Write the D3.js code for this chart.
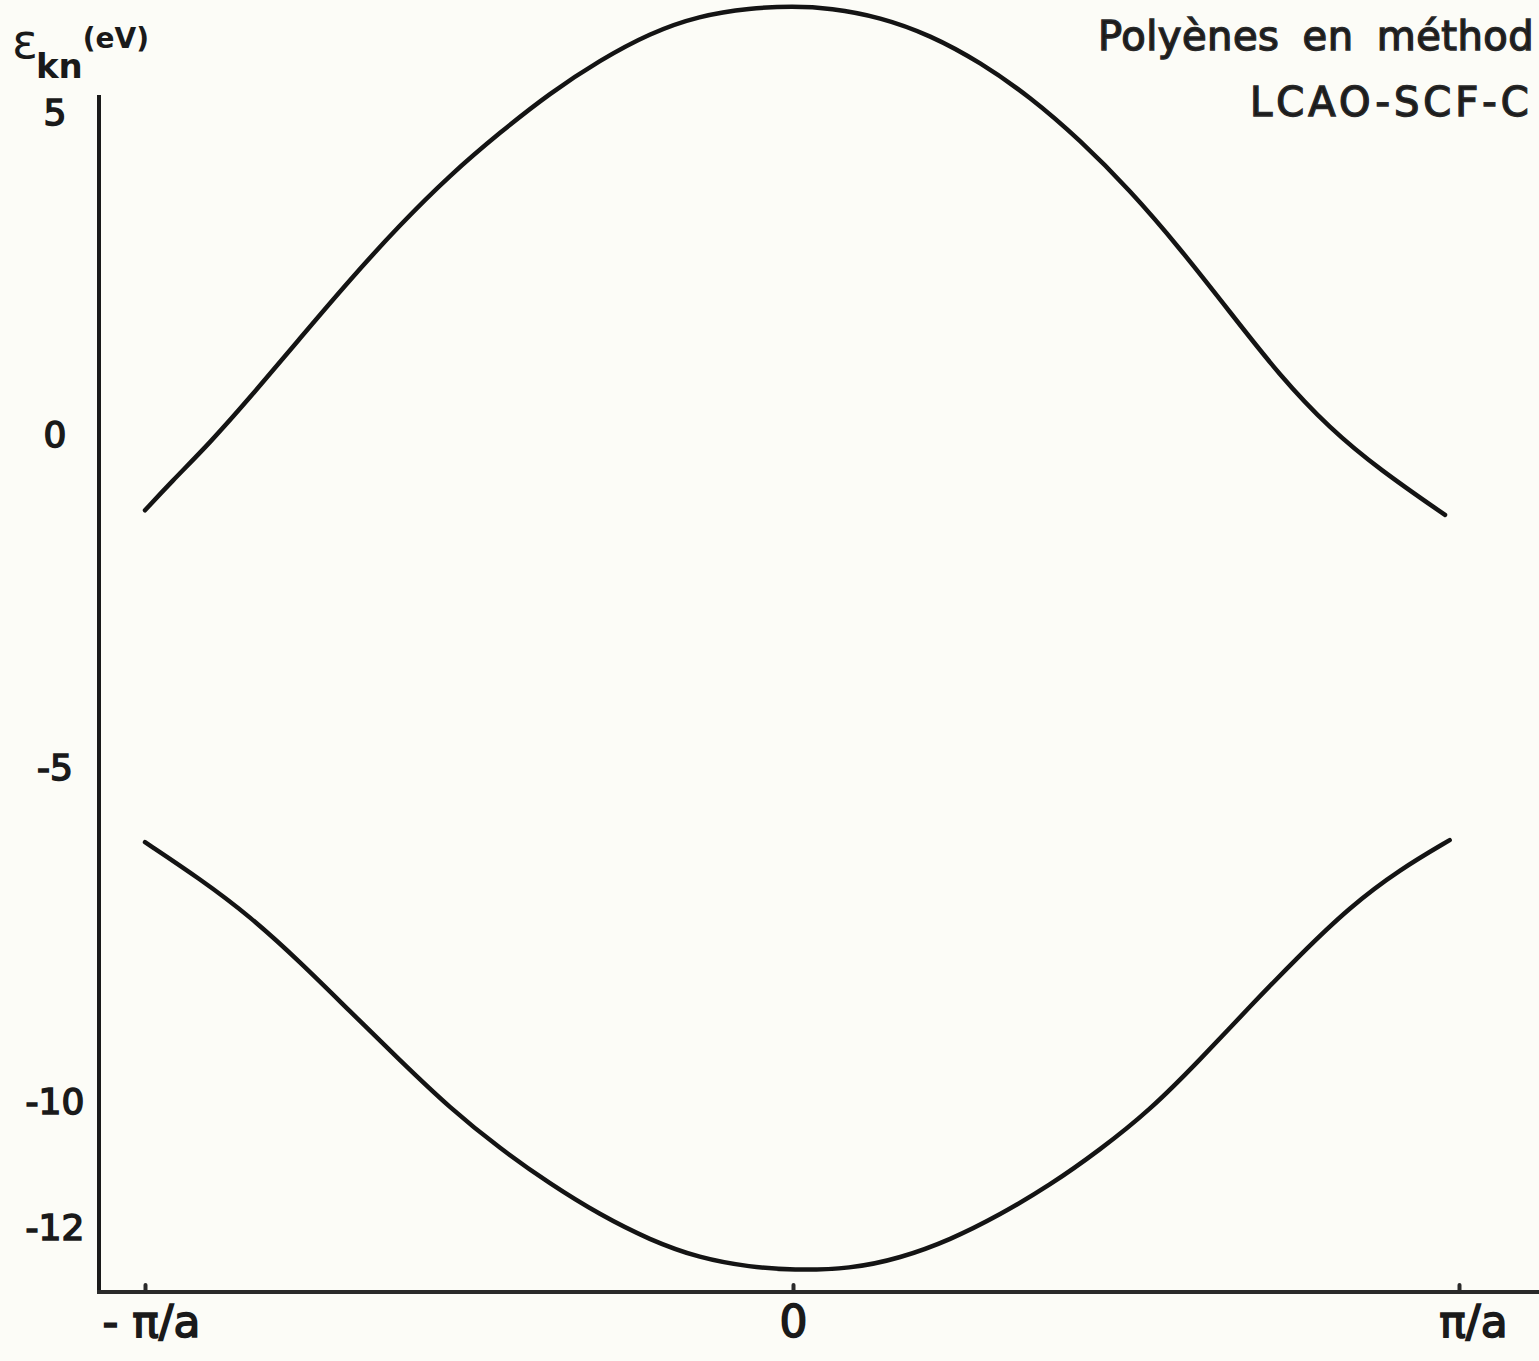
<!DOCTYPE html>
<html>
<head>
<meta charset="utf-8">
<script src="https://cdn.jsdelivr.net/npm/d3@7"></script>
<style>
body{margin:0;background:#fcfcf7;}
svg text{font-family:"DejaVu Sans",sans-serif;fill:#1a1a1a;}
</style>
</head>
<body>
<div class="box"></div>
<script>
// wave vector in units of pi/a, energy in eV
const kUpper=[-1,-0.961,-0.90,-0.838,-0.761,-0.684,-0.607,-0.529,-0.452,-0.375,-0.298,-0.221,-0.145,-0.066,0,0.056,0.131,0.206,0.281,0.356,0.431,0.506,0.581,0.656,0.731,0.806,0.881,0.979];
const eUpper=[-1.13,-0.72,-0.12,0.58,1.50,2.41,3.26,4.04,4.70,5.31,5.82,6.24,6.51,6.63,6.66,6.63,6.49,6.21,5.79,5.25,4.58,3.80,2.90,1.91,0.92,0.10,-0.52,-1.20];
const kLower=[-1,-0.915,-0.838,-0.761,-0.684,-0.606,-0.529,-0.452,-0.375,-0.298,-0.221,-0.144,-0.066,0,0.086,0.161,0.236,0.311,0.386,0.461,0.536,0.611,0.686,0.761,0.836,0.911,0.986];
const eLower=[-6.11,-6.66,-7.22,-7.90,-8.64,-9.38,-10.10,-10.74,-11.30,-11.79,-12.19,-12.48,-12.62,-12.67,-12.65,-12.48,-12.19,-11.79,-11.32,-10.76,-10.13,-9.37,-8.57,-7.80,-7.08,-6.52,-6.08];
const yTicks=[5,0,-5,-10,-12];
const xTicks=[-1,0,1];
const xTickLabels=['- π/a','0','π/a'];

const W=1539,H=1361;
const svg=d3.select('.box').append('svg').attr('width',W).attr('height',H).style('background','#fcfcf7');

// hand drawn axes are not quite linear, so piecewise scales
const x=d3.scaleLinear().domain([-1,0,1]).range([145,793,1459]);
const y=d3.scaleLinear().domain([-12,-10,-5,0,5]).range([1228,1102,768,435,113]);

const axisX0=99,axisY0=1292;

// axis lines
svg.append('line').attr('x1',axisX0).attr('x2',axisX0).attr('y1',95).attr('y2',axisY0)
  .attr('stroke','#1a1a1a').attr('stroke-width',4);
svg.append('line').attr('x1',axisX0-2).attr('x2',W).attr('y1',axisY0).attr('y2',axisY0)
  .attr('stroke','#2a2a2a').attr('stroke-width',4);

const gY=svg.append('g').attr('transform',`translate(${axisX0},0)`);
gY.call(d3.axisLeft(y).tickValues(yTicks).tickSize(0).tickPadding(44).tickFormat(d=>d<0?'-'+Math.abs(d):d));
gY.select('.domain').remove();
gY.selectAll('text').attr('font-size',36).attr('text-anchor','middle')
  .attr('stroke','#1a1a1a').attr('stroke-width',1.6).style('font-family','"DejaVu Sans",sans-serif');

const gX=svg.append('g').attr('transform',`translate(0,${axisY0})`);
gX.call(d3.axisBottom(x).tickValues(xTicks).tickSize(-7).tickPadding(14).tickFormat((d,i)=>xTickLabels[i]));
gX.select('.domain').remove();
gX.selectAll('line').attr('stroke','#2a2a2a').attr('stroke-width',4).attr('stroke-linecap','round');
gX.selectAll('text').attr('font-size',44).attr('stroke','#1a1a1a').attr('stroke-width',1.6)
  .style('font-family','"DejaVu Sans",sans-serif');
gX.selectAll('.tick').filter(d=>d==-1).select('text').attr('dx',6);
gX.selectAll('.tick').filter(d=>d==1).select('text').attr('dx',14);

// bands
const line=d3.line().x(d=>x(d[0])).y(d=>y(d[1])).curve(d3.curveBasis);
svg.append('path').datum(d3.zip(kUpper,eUpper)).attr('d',line)
  .attr('fill','none').attr('stroke','#141414').attr('stroke-width',4.5).attr('stroke-linecap','round');
svg.append('path').datum(d3.zip(kLower,eLower)).attr('d',line)
  .attr('fill','none').attr('stroke','#141414').attr('stroke-width',4.5).attr('stroke-linecap','round');

// y axis title
const t=svg.append('text').attr('x',12).attr('y',58);
t.append('tspan').text('ε').attr('font-size',48);
t.append('tspan').text('kn').attr('font-size',34).attr('font-weight','bold').attr('dy',20).attr('dx',-2);
t.append('tspan').text('(eV)').attr('font-size',28).attr('font-weight','bold').attr('dy',-30);

// caption top right
svg.append('text').attr('x',1098).attr('y',50).attr('font-size',40).attr('fill','#2a2a2a')
  .attr('stroke','#2a2a2a').attr('stroke-width',1.5).attr('letter-spacing',0.5).attr('word-spacing',10).text('Polyènes en méthod');
svg.append('text').attr('x',1250).attr('y',116).attr('font-size',40).attr('fill','#2a2a2a')
  .attr('stroke','#2a2a2a').attr('stroke-width',1.5).attr('letter-spacing',4).text('LCAO-SCF-C');
</script>
</body>
</html>
